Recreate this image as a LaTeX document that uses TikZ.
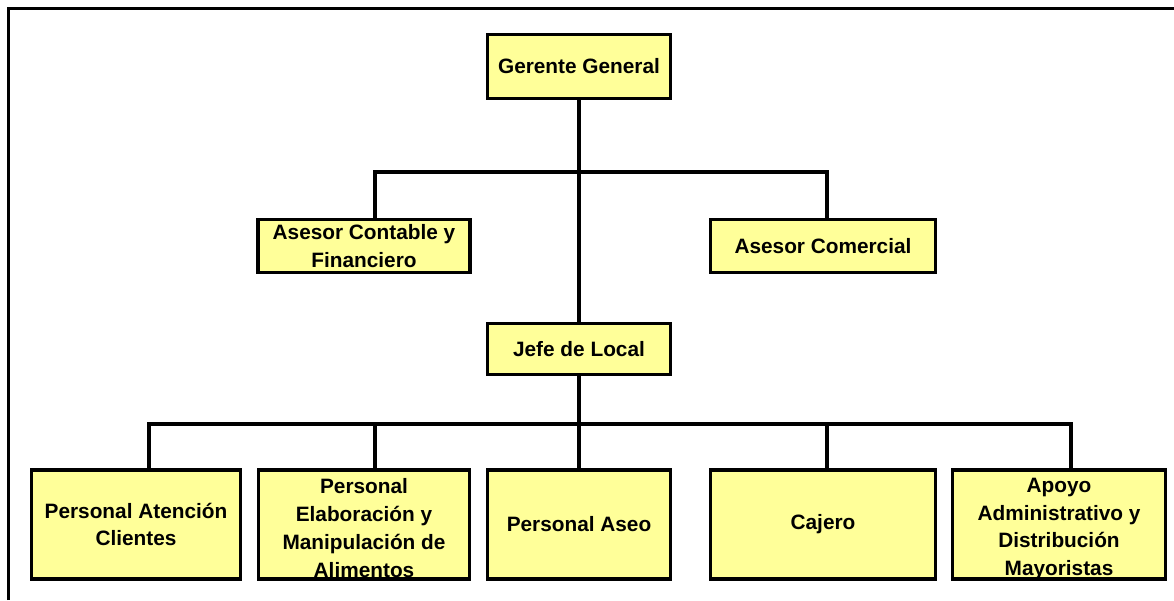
\documentclass[tikz,border=0pt]{standalone}
\usepackage{fontspec}
\setmainfont{Liberation Sans}
\usetikzlibrary{shadows}
\definecolor{boxfill}{RGB}{255,255,153}
\tikzset{
  boxtext/.style={inner sep=0pt, align=center, font=\fontsize{20.8}{27.8}\selectfont\bfseries},
  orgbox/.style={boxtext, draw=black, line width=3.6pt, fill=boxfill,
    drop shadow={shadow xshift=1.5pt, shadow yshift=-1.5pt, fill=black, opacity=1}},
  link/.style={line width=3.6pt, line join=miter, line cap=rect},
}
\begin{document}
\begin{tikzpicture}[x=1pt,y=-1pt]
\useasboundingbox (0,0) rectangle (1174,600);
% frame
\draw[line width=3pt] (8,600) -- (8,8) -- (1174,8);

\node[orgbox, minimum width=183pt, minimum height=64pt] (gg) at (579,66.5) {Gerente General};
\node[orgbox, minimum width=212pt, minimum height=53pt] (ac) at (364,246) {Asesor Contable y\\Financiero};
\node[orgbox, minimum width=225pt, minimum height=53pt] (acom) at (823,246) {Asesor Comercial};
\node[orgbox, minimum width=183pt, minimum height=51pt] (jl) at (579,349) {Jefe de Local};

\node[orgbox, minimum width=209pt, minimum height=109pt] (p1) at (136,524.5) {Personal Atención\\Clientes};
\node[orgbox, minimum width=211pt, minimum height=109pt] (p2) at (364,524.5) {};
\node[boxtext] (p2t) at (364,528) {Personal\\Elaboración y\\Manipulación de\\Alimentos};
\node[orgbox, minimum width=183pt, minimum height=109pt] (p3) at (579,524.5) {Personal Aseo};
\node[orgbox, minimum width=225pt, minimum height=109pt] (p4) at (823,524.5) {Cajero};
\node[orgbox, minimum width=213pt, minimum height=109pt] (p5) at (1059,524.5) {};
\node[boxtext] (p5t) at (1059,529) {Apoyo\\Administrativo y\\Distribución\\Mayoristas};

\coordinate (busA) at (579,172);
\coordinate (busB) at (579,424);

\draw[link] (gg.south) -- (jl.north);
\draw[link] ([xshift=11pt]ac.north) |- (busA);
\draw[link] ([xshift=4pt]acom.north) |- (busA);
\draw[link] (jl.south) -- (p3.north);
\draw[link] ([xshift=13pt]p1.north) |- (busB);
\draw[link] ([xshift=11pt]p2.north) |- (busB);
\draw[link] ([xshift=4pt]p4.north) |- (busB);
\draw[link] ([xshift=12pt]p5.north) |- (busB);
\end{tikzpicture}
\end{document}
